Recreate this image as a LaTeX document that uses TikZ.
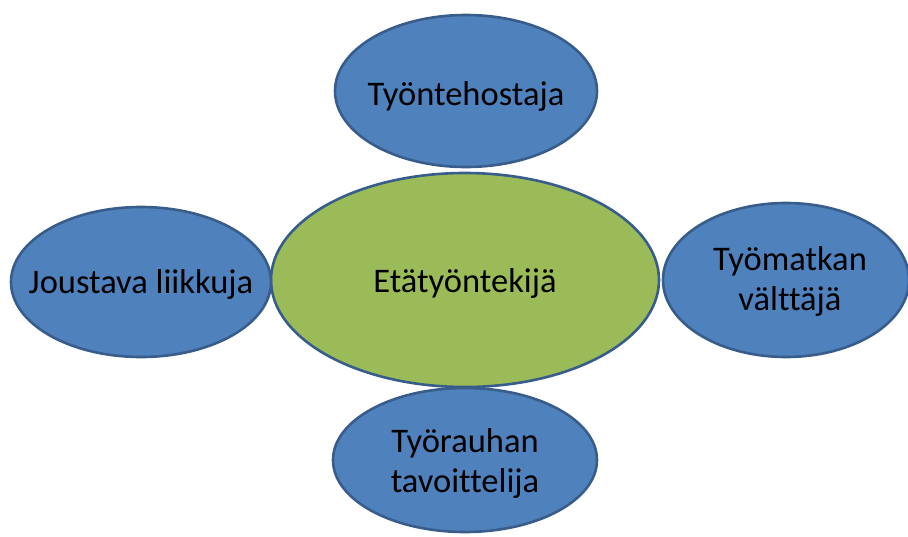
\documentclass[tikz,border=0pt]{standalone}
\usepackage{fontspec}
\setmainfont[Ligatures=NoCommon]{Carlito}
\usetikzlibrary{shapes.geometric}
\definecolor{bluefill}{HTML}{4F81BD}
\definecolor{greenfill}{HTML}{9BBB59}
\definecolor{edgeblue}{HTML}{385D8A}
\begin{document}
\begin{tikzpicture}[x=1pt,y=-1pt,
  oval/.style={ellipse, draw=edgeblue, line width=2.6pt, inner sep=0pt},
  blueoval/.style={oval, fill=bluefill},
  greenoval/.style={oval, fill=greenfill},
  lbl/.style={align=center, font=\fontsize{34.5}{40}\selectfont, text=black, inner sep=0pt}]
\useasboundingbox (0,0) rectangle (908,536);
\node[greenoval, minimum width=388pt, minimum height=214pt] (center) at (465,280) {};
\node[blueoval, minimum width=262pt, minimum height=152pt] (top) at (466,91) {};
\node[blueoval, minimum width=260pt, minimum height=150pt] (left) at (141,282) {};
\node[blueoval, minimum width=246pt, minimum height=154pt] (right) at (786,280) {};
\node[blueoval, minimum width=264pt, minimum height=144pt] (bottom) at (465,460) {};
\node[lbl] (tcenter) at ([yshift=-3pt]center.center) {Etätyöntekijä};
\node[lbl] (ttop) at ([yshift=-5pt]top.center) {Työntehostaja};
\node[lbl] (tleft) at ([yshift=-2pt]left.center) {Joustava liikkuja};
\node[lbl] (tright) at ([xshift=4pt,yshift=-1pt]right.center) {Työmatkan\\välttäjä};
\node[lbl] (tbottom) at ([yshift=-3pt]bottom.center) {Työrauhan\\tavoittelija};
\end{tikzpicture}
\end{document}
